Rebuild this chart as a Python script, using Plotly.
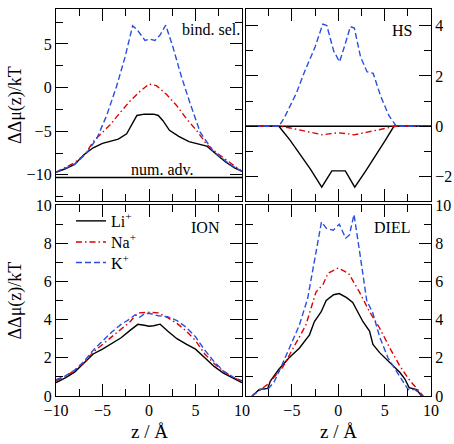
import plotly.graph_objects as go

# ---------------- data ----------------
# Panel "bind. sel." (top-left)
bind_li_z = [-10, -9, -8, -7, -6, -5, -4, -3.3, -2.4, -1.8, -1.3, -0.5, 0.5, 1, 1.5, 2.2, 3.2, 4.3, 5.4, 6.2, 7.2, 8.2, 9.2, 10]
bind_li_v = [-9.7, -9.3, -8.8, -7.7, -6.9, -6.4, -6.1, -5.9, -5.3, -4.2, -3.2, -3.05, -3.05, -3.2, -3.8, -4.9, -5.6, -6.2, -6.5, -6.7, -7.6, -8.5, -9.2, -9.6]
bind_na_z = [-10, -8, -6.9, -6.0, -5.27, -4.2, -3.1, -2.04, -0.97, 0, 0.8, 1.9, 3.0, 4.05, 5.1, 6.2, 7.3, 8.7, 10]
bind_na_v = [-9.7, -8.6, -7.7, -6.2, -5.4, -4.3, -2.85, -1.55, -0.44, 0.4, 0.22, -0.8, -2.1, -3.6, -4.9, -6.5, -7.5, -8.6, -9.6]
bind_k_z = [-10, -8, -6.7, -5.6, -4.55, -3.5, -2.6, -1.76, -1.33, -0.43, 0.1, 0.64, 1.18, 1.8, 2.6, 3.5, 4.4, 5.5, 6.9, 8.7, 10]
bind_k_v = [-9.7, -8.8, -7.5, -5.8, -3.2, 0.1, 3.4, 7.07, 6.7, 5.4, 5.55, 5.4, 6.0, 7.15, 4.55, 1.2, -1.74, -5.1, -7.3, -8.8, -9.6]

# Panel "HS" (top-right)
hs_li_z = [-10, -6.4, -5.2, -4, -3, -1.78, -0.69, 0.76, 1.78, 3, 4, 5, 6.0, 10]
hs_li_v = [0, 0, -0.55, -1.15, -1.7, -2.42, -1.77, -1.77, -2.42, -1.75, -1.2, -0.6, 0, 0]
hs_na_z = [-10, -6.3, -5, -4, -3, -1.7, -1, 0, 1, 1.7, 3, 4, 5, 6.2, 10]
hs_na_v = [0, 0, -0.08, -0.15, -0.23, -0.34, -0.3, -0.26, -0.3, -0.34, -0.24, -0.16, -0.08, 0, 0]
hs_k_z = [-10, -6.4, -5.8, -4.5, -3.6, -3.0, -2.5, -1.67, -1.23, -0.5, 0.14, 0.76, 1.3, 1.74, 2.4, 3.1, 3.77, 4.57, 5.47, 6.27, 10]
hs_k_v = [0, 0, 0.35, 1.33, 2.2, 2.76, 3.15, 4.06, 4.0, 3.0, 2.56, 3.28, 3.96, 3.9, 2.76, 2.17, 2.1, 1.2, 0.42, 0, 0]

# Panel "ION" (bottom-left)
ion_li_z = [-10, -9, -8, -7, -6, -5, -4, -3, -2, -1.2, -0.5, 0, 0.5, 1.2, 2, 3, 4, 5, 6, 7, 8, 9, 10]
ion_li_v = [0.7, 0.95, 1.25, 1.7, 2.2, 2.45, 2.75, 3.05, 3.45, 3.75, 3.7, 3.65, 3.68, 3.76, 3.4, 3.0, 2.72, 2.45, 2.0, 1.55, 1.2, 0.95, 0.7]
ion_na_z = [-10, -9, -8, -7, -6, -5, -4, -3, -2, -1.5, -1, 0, 1, 2, 3, 4, 5, 6, 7, 8, 9, 10]
ion_na_v = [0.8, 1.0, 1.35, 1.75, 2.3, 2.7, 3.1, 3.5, 3.9, 4.2, 4.35, 4.38, 4.35, 4.1, 3.8, 3.4, 2.9, 2.2, 1.7, 1.3, 1.0, 0.75]
ion_k_z = [-10, -9, -8, -7, -6, -5, -4, -3, -2, -1.5, -1, -0.5, 0, 1, 2, 3, 4, 5, 6, 7, 8, 9, 10]
ion_k_v = [0.85, 1.05, 1.35, 1.8, 2.4, 2.9, 3.35, 3.75, 4.05, 4.25, 4.12, 4.3, 4.33, 4.2, 4.15, 3.95, 3.6, 3.1, 2.4, 1.8, 1.3, 1.0, 0.8]

# Panel "DIEL" (bottom-right)
diel_li_z = [-9.3, -8.5, -7.6, -7.3, -6.4, -5.3, -4.2, -3.1, -2.57, -1.85, -1.3, -0.5, 0.1, 0.9, 1.56, 1.92, 2.65, 3.37, 3.74, 4.46, 5.18, 5.9, 6.63, 7.17, 7.64, 8.44, 8.98]
diel_li_v = [0, 0.34, 0.4, 0.8, 1.4, 2.0, 2.5, 3.2, 3.9, 4.4, 5.0, 5.3, 5.36, 5.15, 4.9, 4.58, 3.9, 3.4, 2.7, 2.27, 1.92, 1.58, 1.24, 0.9, 0.44, 0.34, 0]
diel_na_z = [-9.3, -8.5, -7.5, -6.0, -4.6, -3.5, -2.4, -1.64, -1.1, 0, 1.1, 2.0, 2.29, 3.37, 4.46, 5.54, 6.63, 7.7, 8.44, 9.16]
diel_na_v = [0, 0.3, 0.65, 1.5, 2.7, 3.7, 5.44, 5.84, 6.43, 6.7, 6.43, 5.67, 5.44, 4.41, 3.56, 2.53, 1.58, 0.82, 0.4, 0]
diel_k_z = [-9.3, -8.4, -7.5, -6.9, -6.0, -4.9, -4.2, -3.3, -3.07, -2.35, -1.81, -1.27, -0.54, 0.11, 0.8, 1.2, 1.7, 2.35, 3.07, 3.74, 4.46, 5.36, 6.27, 7.17, 7.53, 8.25, 9.16]
diel_k_v = [0, 0.34, 0.4, 0.75, 1.7, 2.9, 3.7, 5.1, 5.7, 7.75, 9.11, 8.77, 8.68, 8.99, 8.26, 8.43, 9.5, 7.4, 5.0, 4.33, 3.1, 2.0, 1.33, 0.65, 0.34, 0.34, 0]

# reference levels
num_adv_level = -10.3
hs_zero_level = 0.0

ion_names = ["Li<sup>+</sup>", "Na<sup>+</sup>", "K<sup>+</sup>"]
panel_labels = ["bind. sel.", "HS", "ION", "DIEL"]

# ---------------- style ----------------
FONT = "Liberation Serif"
COL = {"li": "black", "na": "#e00000", "k": "#2a4ee0"}
DASH = {"li": "solid", "na": "6px,3px,1.5px,3px", "k": "6px,3px"}
LW = 1.4
LEGENDS = ["legend", "legend2", "legend3"]

panels = [
    ("x", "y", [(bind_li_z, bind_li_v), (bind_na_z, bind_na_v), (bind_k_z, bind_k_v)]),
    ("x2", "y2", [(hs_li_z, hs_li_v), (hs_na_z, hs_na_v), (hs_k_z, hs_k_v)]),
    ("x3", "y3", [(ion_li_z, ion_li_v), (ion_na_z, ion_na_v), (ion_k_z, ion_k_v)]),
    ("x4", "y4", [(diel_li_z, diel_li_v), (diel_na_z, diel_na_v), (diel_k_z, diel_k_v)]),
]

fig = go.Figure()
for pi, (xa, ya, series) in enumerate(panels):
    for si, key in enumerate(["li", "na", "k"]):
        zz, vv = series[si]
        fig.add_trace(go.Scatter(
            x=zz, y=vv, mode="lines", xaxis=xa, yaxis=ya,
            name=ion_names[si], showlegend=(pi == 2), legend=LEGENDS[si],
            line=dict(color=COL[key], width=LW, dash=DASH[key]),
        ))

# reference lines
fig.add_shape(type="line", xref="x domain", yref="y", x0=0, x1=1,
              y0=num_adv_level, y1=num_adv_level, line=dict(color="black", width=LW), layer="below")
fig.add_shape(type="line", xref="x2 domain", yref="y2", x0=0, x1=1,
              y0=hs_zero_level, y1=hs_zero_level, line=dict(color="black", width=LW), layer="below")

W, H = 454, 444
ML, MR, MT, MB = 56, 23, 1, 48
PW, PH = W - ML - MR, H - MT - MB

def xd(a, b):
    return [(a - ML) / PW, (b - ML) / PW]

def yd(top, bot):
    return [(H - MB - bot) / PH, (H - MB - top) / PH]

tickfont = dict(family=FONT, size=16, color="black")

def axis_common(**kw):
    d = dict(showline=True, linecolor="black", linewidth=1.3, mirror="allticks",
             ticks="inside", ticklen=12, tickwidth=1.2, tickcolor="black",
             showgrid=False, zeroline=False, tickfont=tickfont, fixedrange=True)
    d.update(kw)
    return d

def minor(step):
    return dict(ticks="inside", ticklen=7, tickwidth=1.2, tickcolor="black", tick0=0, dtick=step, showgrid=False)

def legend_at(top_px):
    return dict(x=(71 - ML) / PW, y=(H - MB - top_px) / PH, xanchor="left", yanchor="top",
                bgcolor="rgba(0,0,0,0)", font=dict(family=FONT, size=16, color="black"),
                tracegroupgap=0, itemwidth=30)

fig.update_layout(
    width=W, height=H,
    margin=dict(l=ML, r=MR, t=MT, b=MB),
    paper_bgcolor="white", plot_bgcolor="white",
    font=dict(family=FONT, color="black"),
    xaxis=axis_common(domain=xd(56, 242), range=[-10, 10], anchor="y", tickmode="array",
                      tickvals=[-10, -5, 0, 5, 10], showticklabels=False, minor=minor(2.5)),
    yaxis=axis_common(domain=yd(1, 197), range=[-13, 9], anchor="x", tickmode="array",
                      tickvals=[-10, -5, 0, 5], minor=minor(2.5)),
    xaxis2=axis_common(domain=xd(245.5, 431), range=[-10, 10], anchor="y2", tickmode="array",
                       tickvals=[-10, -5, 0, 5, 10], showticklabels=False, minor=minor(2.5)),
    yaxis2=axis_common(domain=yd(1, 197), range=[-2.97, 4.66], anchor="x2", side="right",
                       tickmode="array", tickvals=[-2, 0, 2, 4], minor=minor(1)),
    xaxis3=axis_common(domain=xd(56, 242), range=[-10, 10], anchor="y3", tickmode="array",
                       tickvals=[-10, -5, 0, 5, 10], minor=minor(2.5)),
    yaxis3=axis_common(domain=yd(201, 396), range=[0, 10], anchor="x3", tickmode="array",
                       tickvals=[0, 2, 4, 6, 8, 10], minor=minor(1)),
    xaxis4=axis_common(domain=xd(245.5, 431), range=[-10, 10], anchor="y4", tickmode="array",
                       tickvals=[-5, 0, 5, 10], minor=minor(2.5)),
    yaxis4=axis_common(domain=yd(201, 396), range=[0, 10], anchor="x4", side="right",
                       tickmode="array", tickvals=[0, 2, 4, 6, 8, 10], minor=minor(1)),
    legend=legend_at(200),
    legend2=legend_at(221.5),
    legend3=legend_at(242.5),
    showlegend=True,
)

ann_font = dict(family=FONT, size=16, color="black")
fig.add_annotation(text=panel_labels[0], xref="x", yref="y", x=10, y=6.6, xanchor="right", yanchor="middle",
                   showarrow=False, font=ann_font)
fig.add_annotation(text="num. adv.", xref="x", yref="y", x=1.5, y=-9.4, xanchor="center", yanchor="middle",
                   showarrow=False, font=ann_font)
fig.add_annotation(text=panel_labels[1], xref="x2", yref="y2", x=6.85, y=3.8, xanchor="center", yanchor="middle",
                   showarrow=False, font=ann_font)
fig.add_annotation(text=panel_labels[2], xref="x3", yref="y3", x=6.08, y=8.8, xanchor="center", yanchor="middle",
                   showarrow=False, font=ann_font)
fig.add_annotation(text=panel_labels[3], xref="x4", yref="y4", x=5.8, y=8.8, xanchor="center", yanchor="middle",
                   showarrow=False, font=ann_font)

# axis titles
ytitle = "ΔΔμ(z)/kT"
xtitle = "z / Å"
for ycen in [(1 + 197) / 2, (201 + 396) / 2]:
    fig.add_annotation(text=ytitle, xref="paper", yref="paper", x=(15 - ML) / PW, y=(H - MB - ycen) / PH,
                       textangle=-90, showarrow=False, font=dict(family=FONT, size=18, color="black"),
                       xanchor="center", yanchor="middle")
for xcen in [149, 338]:
    fig.add_annotation(text=xtitle, xref="paper", yref="paper", x=(xcen - ML) / PW, y=(H - MB - 432) / PH,
                       showarrow=False, font=dict(family=FONT, size=19, color="black"),
                       xanchor="center", yanchor="middle")

fig.write_html("out.html", config={"displayModeBar": False},
               post_script="document.body.style.margin='0';document.body.style.padding='0';")
